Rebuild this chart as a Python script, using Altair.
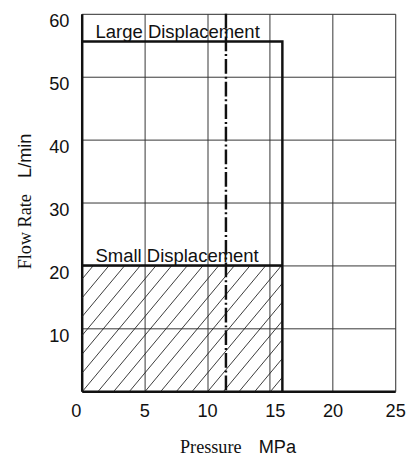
import altair as alt
import numpy as np
import pandas as pd

# ---- data ----
x_ticks = [0, 5, 10, 15, 20, 25]
y_ticks = [10, 20, 30, 40, 50, 60]
p_max = 16.0          # MPa, max pressure of both displacements
p_rated = 11.5        # MPa, dash-dot reference line
q_large = 55.6        # L/min, large displacement flow
q_small = 20.0        # L/min, small displacement flow
labels = ["Large Displacement", "Small Displacement"]
label_q = [q_large, q_small]

# ---- derived tables ----
large_outline = pd.DataFrame({"p": [0, p_max, p_max], "q": [q_large, q_large, 0], "o": [0, 1, 2]})
small_top = pd.DataFrame({"p": [0, p_max], "q": [q_small, q_small], "o": [0, 1]})
ref_line = pd.DataFrame({"p": [p_rated], "q0": [60], "q1": [0]})
text_df = pd.DataFrame({"label": labels, "q": label_q, "p": [1.1, 1.1]})

# hatch segments clipped to the small-displacement rectangle
k, step = 2.39, 1.25
segs = []
c = -7.43
while c < p_max:
    x1 = max(0.0, c)
    y1 = k * (x1 - c)
    x2 = min(p_max, c + q_small / k)
    y2 = k * (x2 - c)
    if x2 > x1 and y1 < q_small:
        segs.append((x1, y1, x2, y2))
    c += step
hatch = pd.DataFrame(segs, columns=["x1", "y1", "x2", "y2"])

xs = alt.Scale(domain=[0, 25], nice=False, zero=True)
ys = alt.Scale(domain=[0, 60], nice=False, zero=True)

x_axis = alt.Axis(values=x_ticks, title=None, ticks=False, grid=True,
                  labelFont="Liberation Sans", labelFontSize=18.5, labelColor="#111",
                  labelPadding=11, labelBaseline="top",
                  labelOffset={"condition": [{"test": "datum.value === 0", "value": -6},
                                             {"test": "datum.value === 15", "value": 5}],
                               "value": 0},
                  domainWidth=2.5, domainColor="#111", gridColor="#333", gridWidth=1,
                  gridOpacity=1, labelFlush=False)
y_axis = alt.Axis(values=y_ticks, title=None, ticks=False, grid=True,
                  labelFont="Liberation Sans", labelFontSize=18.5, labelColor="#111",
                  labelPadding=13, labelBaseline="middle", labelOffset=7,
                  domainWidth=2.5, domainColor="#111", gridColor="#333", gridWidth=1,
                  gridOpacity=1, labelFlush=False)

base_grid = alt.Chart(pd.DataFrame({"p": [0], "q": [0]})).mark_point(opacity=0).encode(
    x=alt.X("p:Q", scale=xs, axis=x_axis),
    y=alt.Y("q:Q", scale=ys, axis=y_axis),
)

hatch_layer = alt.Chart(hatch).mark_rule(color="#222", strokeWidth=0.9).encode(
    x=alt.X("x1:Q", scale=xs), y=alt.Y("y1:Q", scale=ys),
    x2="x2:Q", y2="y2:Q",
)

large_layer = alt.Chart(large_outline).mark_line(color="#111", strokeWidth=2.5).encode(
    x=alt.X("p:Q", scale=xs), y=alt.Y("q:Q", scale=ys), order="o:Q")
small_layer = alt.Chart(small_top).mark_line(color="#111", strokeWidth=2.5).encode(
    x=alt.X("p:Q", scale=xs), y=alt.Y("q:Q", scale=ys), order="o:Q")

ref_layer = alt.Chart(ref_line).mark_rule(color="#111", strokeWidth=2.5,
                                          strokeDash=[15, 3, 2, 3]).encode(
    x=alt.X("p:Q", scale=xs), y=alt.Y("q0:Q", scale=ys), y2="q1:Q")

text_layer = alt.Chart(text_df).mark_text(font="Liberation Sans", fontSize=18.8, color="#111",
                                          align="left", baseline="alphabetic", dy=-4).encode(
    x=alt.X("p:Q", scale=xs), y=alt.Y("q:Q", scale=ys), text="label:N")

def title_text(txt, font, x, y, angle=0):
    return alt.Chart(pd.DataFrame({"t": [txt]})).mark_text(
        font=font, fontSize=18.5, color="#111", align="left",
        baseline="middle" if angle else "alphabetic", angle=angle).encode(
        x=alt.value(x), y=alt.value(y), text="t:N")

titles = [
    title_text("Flow Rate", "Liberation Serif", -58, 260, 270),
    title_text("L/min", "Liberation Sans", -58, 167, 270),
    title_text("Pressure", "Liberation Serif", 100, 447),
    title_text("MPa", "Liberation Sans", 180, 447),
]

chart = alt.layer(base_grid, hatch_layer, large_layer, small_layer, ref_layer, text_layer,
                  *titles).properties(
    width=319, height=384,
    autosize=alt.AutoSizeParams(type="none"),
    padding={"left": 75, "top": 2, "right": 14, "bottom": 64},
).configure_view(stroke=None).configure(background="white")

chart.save("out.html", embed_options={"renderer": "svg", "actions": False})
